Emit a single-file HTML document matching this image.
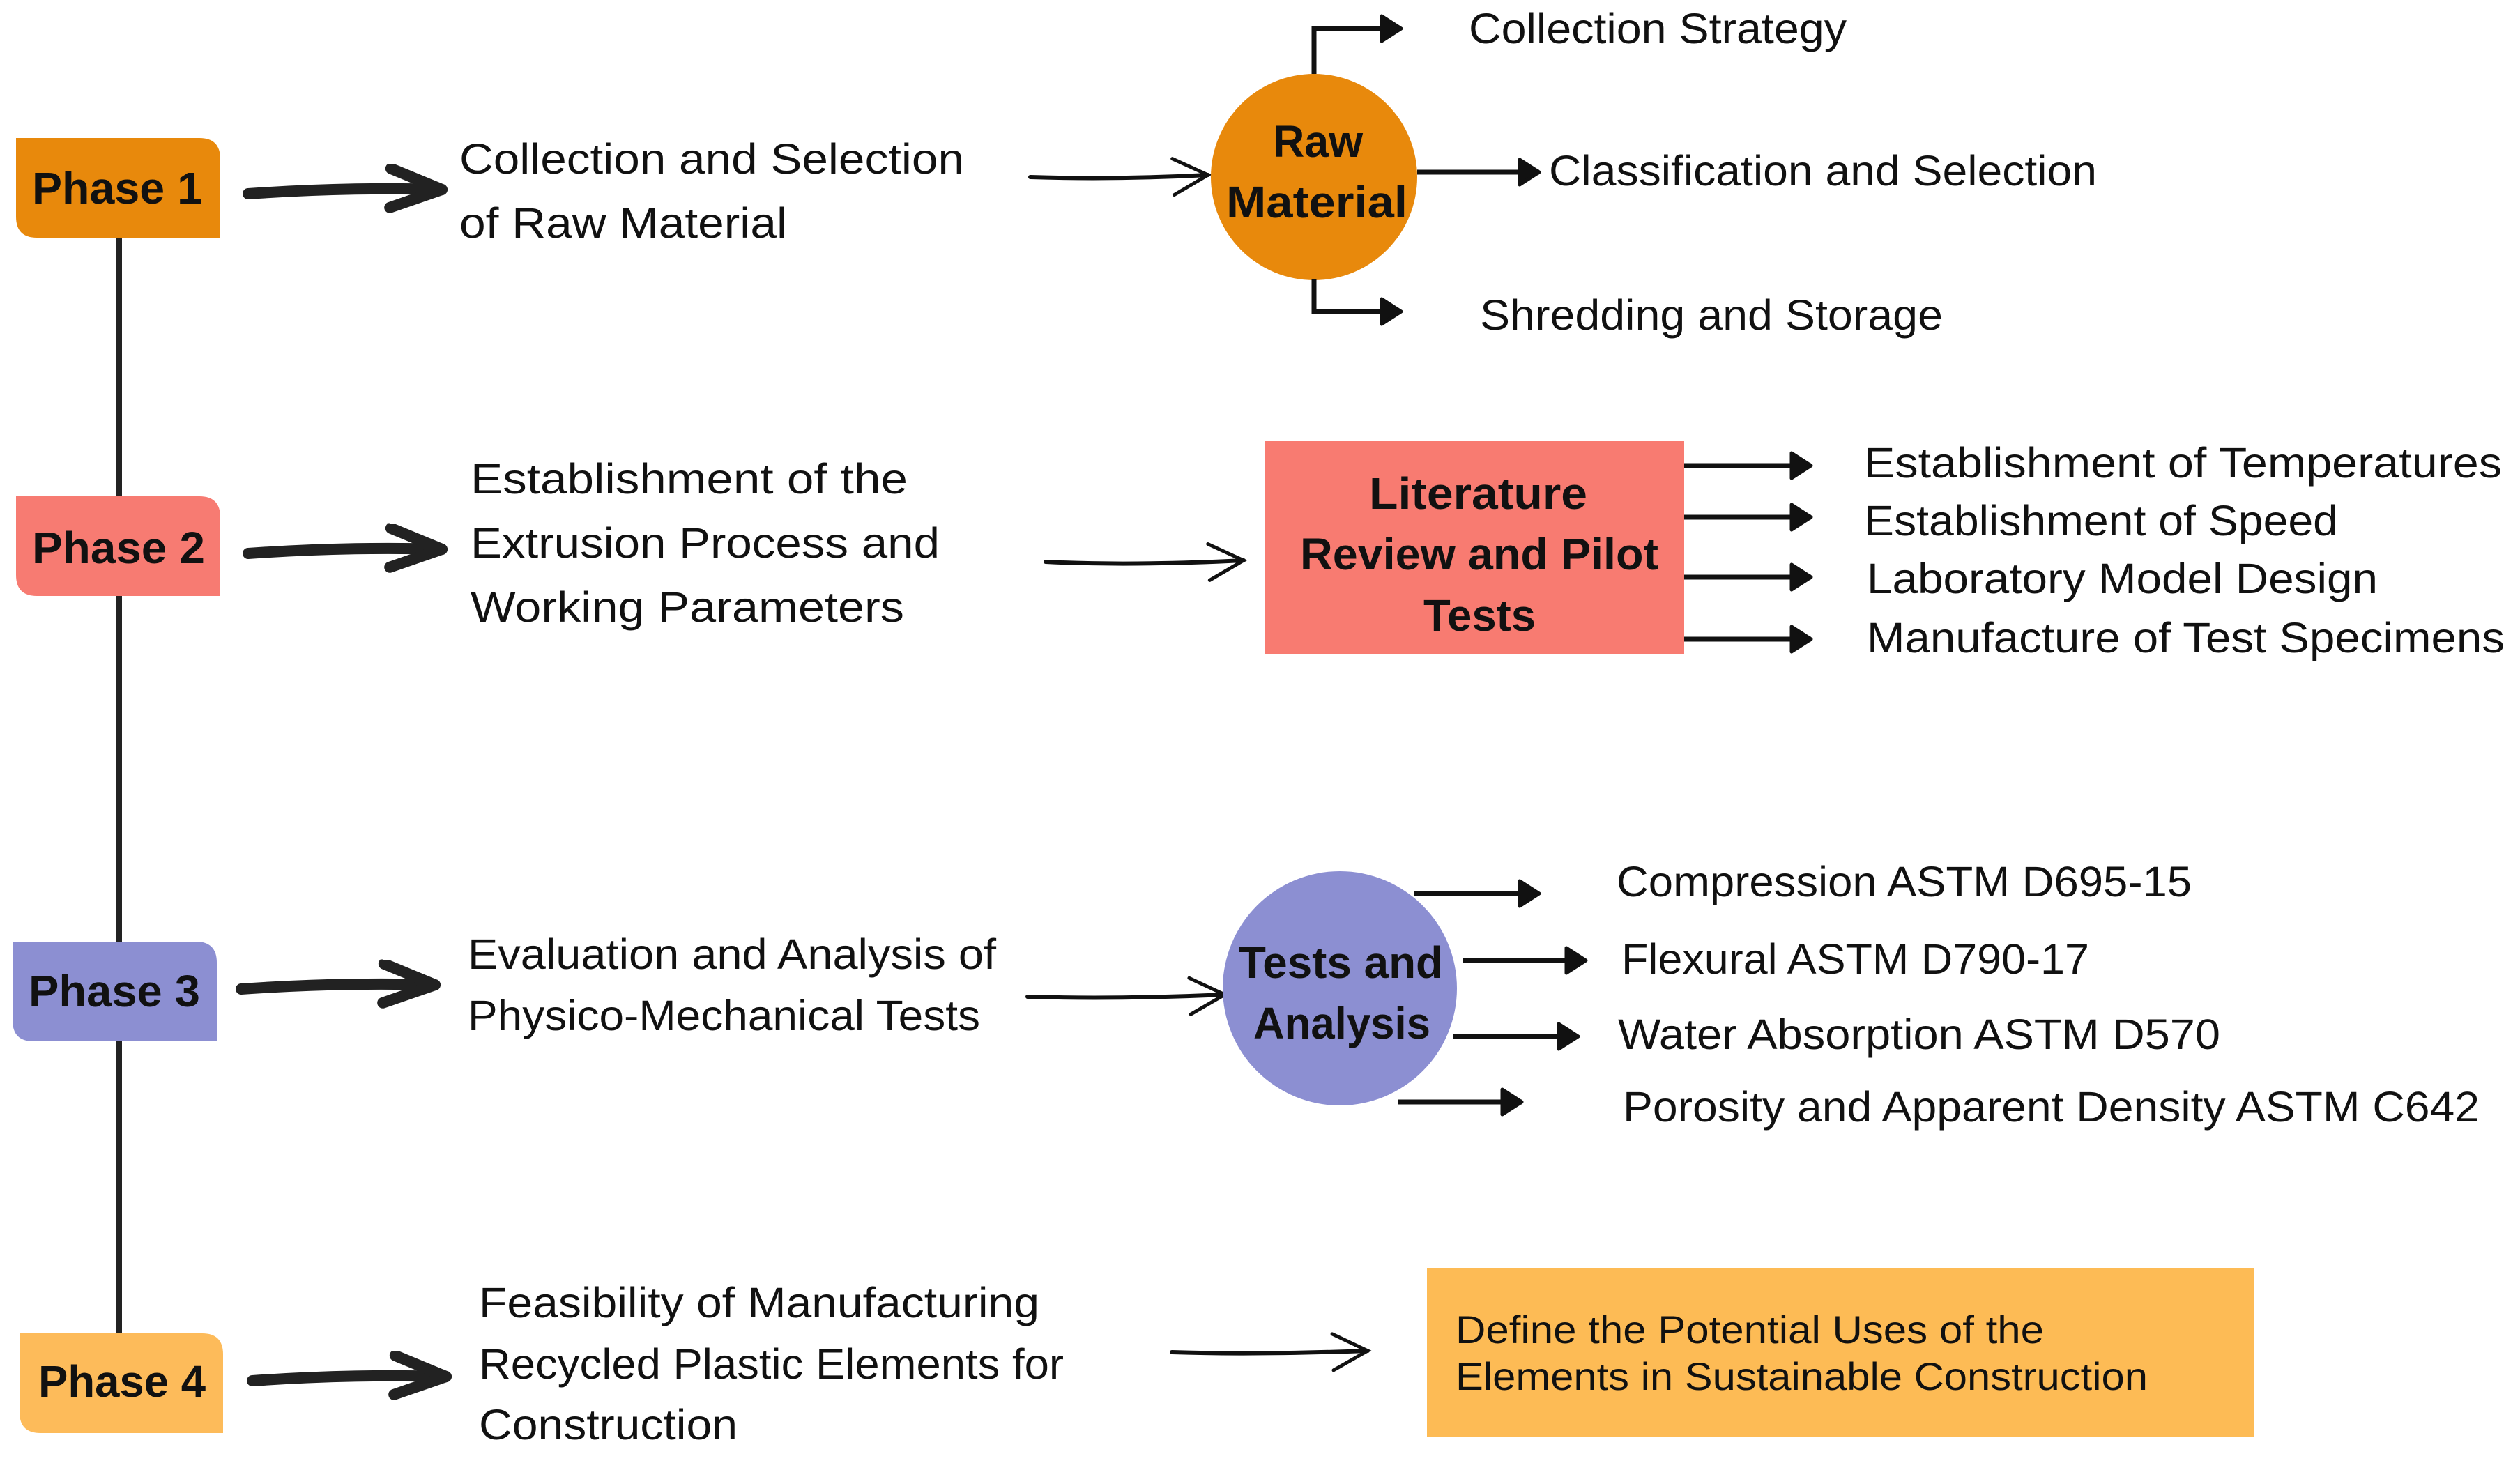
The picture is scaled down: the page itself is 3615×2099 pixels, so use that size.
<!DOCTYPE html>
<html><head><meta charset="utf-8"><style>
html,body{margin:0;padding:0;background:#fff;}
svg{display:block;}
text{font-family:"Liberation Sans",sans-serif;fill:#111;}
.t{font-size:61px;}
.b{font-size:64px;font-weight:bold;}
</style></head><body>
<svg width="3615" height="2099" viewBox="0 0 3615 2099" xmlns="http://www.w3.org/2000/svg">
<defs>
<marker id="ah" markerWidth="100" markerHeight="80" refX="84" refY="34" orient="auto" markerUnits="userSpaceOnUse"><path d="M10,6 L84,34 L10,62" fill="none" stroke="#222" stroke-width="16" stroke-linecap="round" stroke-linejoin="round"/></marker>
<marker id="at" markerWidth="64" markerHeight="64" refX="56" refY="30" orient="auto" markerUnits="userSpaceOnUse"><path d="M6,4 L56,30 L6,56" fill="none" stroke="#111" stroke-width="5" stroke-linecap="round"/></marker>
<marker id="as" markerWidth="44" markerHeight="48" refX="36" refY="22" orient="auto" markerUnits="userSpaceOnUse"><path d="M8,4 L36,22 L8,40 Z" fill="#111" stroke="#111" stroke-width="5" stroke-linejoin="round"/></marker>
</defs>
<line x1="171" y1="341" x2="171" y2="1913" stroke="#222" stroke-width="8"/>
<path d="M23,198 H286 Q316,198 316,228 V341 H53 Q23,341 23,311 Z" fill="#E8890C"/>
<path d="M23,712 H286 Q316,712 316,742 V855 H53 Q23,855 23,825 Z" fill="#F77B72"/>
<path d="M18,1351 H281 Q311,1351 311,1381 V1494 H48 Q18,1494 18,1464 Z" fill="#8C8FD2"/>
<path d="M28,1913 H290 Q320,1913 320,1943 V2056 H58 Q28,2056 28,2026 Z" fill="#FDBB5A"/>
<text class="b" x="46" y="292" textLength="244" lengthAdjust="spacingAndGlyphs">Phase 1</text>
<text class="b" x="46" y="808" textLength="248" lengthAdjust="spacingAndGlyphs">Phase 2</text>
<text class="b" x="41" y="1444" textLength="246" lengthAdjust="spacingAndGlyphs">Phase 3</text>
<text class="b" x="55" y="2004" textLength="240" lengthAdjust="spacingAndGlyphs">Phase 4</text>
<g stroke="#222" stroke-width="16" stroke-linecap="round" fill="none">
<path d="M356,278 Q500,268 634,272" marker-end="url(#ah)"/>
<path d="M356,794 Q500,784 634,788" marker-end="url(#ah)"/>
<path d="M346,1419 Q490,1409 624,1413" marker-end="url(#ah)"/>
<path d="M362,1981 Q506,1971 640,1975" marker-end="url(#ah)"/>
</g>
<g lengthAdjust="spacingAndGlyphs">
<text class="t" x="659" y="249" textLength="724" lengthAdjust="spacingAndGlyphs">Collection and Selection</text>
<text class="t" x="659" y="341" textLength="470" lengthAdjust="spacingAndGlyphs">of Raw Material</text>
<text class="t" x="675" y="708" textLength="627" lengthAdjust="spacingAndGlyphs">Establishment of the</text>
<text class="t" x="675" y="800" textLength="673" lengthAdjust="spacingAndGlyphs">Extrusion Process and</text>
<text class="t" x="675" y="892" textLength="622" lengthAdjust="spacingAndGlyphs">Working Parameters</text>
<text class="t" x="671" y="1390" textLength="758" lengthAdjust="spacingAndGlyphs">Evaluation and Analysis of</text>
<text class="t" x="671" y="1478" textLength="735" lengthAdjust="spacingAndGlyphs">Physico-Mechanical Tests</text>
<text class="t" x="687" y="1890" textLength="804" lengthAdjust="spacingAndGlyphs">Feasibility of Manufacturing</text>
<text class="t" x="687" y="1978" textLength="839" lengthAdjust="spacingAndGlyphs">Recycled Plastic Elements for</text>
<text class="t" x="687" y="2065" textLength="371" lengthAdjust="spacingAndGlyphs">Construction</text>
</g>
<g stroke="#111" stroke-width="6" fill="none" stroke-linecap="round">
<path d="M1478,254 Q1600,258 1733,251" marker-end="url(#at)"/>
<path d="M1500,806 Q1620,812 1784,804" marker-end="url(#at)"/>
<path d="M1474,1430 Q1600,1434 1757,1427" marker-end="url(#at)"/>
<path d="M1681,1940 Q1800,1944 1962,1938" marker-end="url(#at)"/>
</g>
<circle cx="1885" cy="254" r="148" fill="#E8890C"/>
<text class="b" x="1826" y="225" textLength="129" lengthAdjust="spacingAndGlyphs">Raw</text>
<text class="b" x="1759" y="312" textLength="260" lengthAdjust="spacingAndGlyphs">Material</text>
<g stroke="#111" stroke-width="7" fill="none">
<path d="M1885,106 V41 H2010" marker-end="url(#as)"/>
<path d="M1885,401 V447 H2010" marker-end="url(#as)"/>
<path d="M2033,247 H2208" marker-end="url(#as)"/>
</g>
<text class="t" x="2107" y="62" textLength="542" lengthAdjust="spacingAndGlyphs">Collection Strategy</text>
<text class="t" x="2222" y="266" textLength="786" lengthAdjust="spacingAndGlyphs">Classification and Selection</text>
<text class="t" x="2123" y="473" textLength="664" lengthAdjust="spacingAndGlyphs">Shredding and Storage</text>
<rect x="1814" y="632" width="602" height="306" fill="#F87B71"/>
<text class="b" x="1964" y="730" textLength="313" lengthAdjust="spacingAndGlyphs">Literature</text>
<text class="b" x="1865" y="817" textLength="514" lengthAdjust="spacingAndGlyphs">Review and Pilot</text>
<text class="b" x="2042" y="905" textLength="161" lengthAdjust="spacingAndGlyphs">Tests</text>
<g stroke="#111" stroke-width="7" fill="none">
<path d="M2416,668 H2598" marker-end="url(#as)"/>
<path d="M2416,742 H2598" marker-end="url(#as)"/>
<path d="M2416,828 H2598" marker-end="url(#as)"/>
<path d="M2416,917 H2598" marker-end="url(#as)"/>
</g>
<text class="t" x="2674" y="685" textLength="915" lengthAdjust="spacingAndGlyphs">Establishment of Temperatures</text>
<text class="t" x="2674" y="768" textLength="680" lengthAdjust="spacingAndGlyphs">Establishment of Speed</text>
<text class="t" x="2678" y="851" textLength="733" lengthAdjust="spacingAndGlyphs">Laboratory Model Design</text>
<text class="t" x="2678" y="936" textLength="915" lengthAdjust="spacingAndGlyphs">Manufacture of Test Specimens</text>
<circle cx="1922" cy="1418" r="168" fill="#8C8FD2"/>
<text class="b" x="1777" y="1403" textLength="293" lengthAdjust="spacingAndGlyphs">Tests and</text>
<text class="b" x="1798" y="1490" textLength="254" lengthAdjust="spacingAndGlyphs">Analysis</text>
<g stroke="#111" stroke-width="7" fill="none">
<path d="M2028,1282 H2208" marker-end="url(#as)"/>
<path d="M2098,1378 H2275" marker-end="url(#as)"/>
<path d="M2084,1487 H2264" marker-end="url(#as)"/>
<path d="M2005,1581 H2183" marker-end="url(#as)"/>
</g>
<text class="t" x="2319" y="1286" textLength="825" lengthAdjust="spacingAndGlyphs">Compression ASTM D695-15</text>
<text class="t" x="2326" y="1397" textLength="671" lengthAdjust="spacingAndGlyphs">Flexural ASTM D790-17</text>
<text class="t" x="2321" y="1505" textLength="864" lengthAdjust="spacingAndGlyphs">Water Absorption ASTM D570</text>
<text class="t" x="2328" y="1609" textLength="1229" lengthAdjust="spacingAndGlyphs">Porosity and Apparent Density ASTM C642</text>
<rect x="2047" y="1819" width="1187" height="242" fill="#FDBB55"/>
<text x="2088" y="1927" style="font-size:56px" textLength="844" lengthAdjust="spacingAndGlyphs">Define the Potential Uses of the</text>
<text x="2088" y="1994" style="font-size:56px" textLength="993" lengthAdjust="spacingAndGlyphs">Elements in Sustainable Construction</text>
</svg>
</body></html>
